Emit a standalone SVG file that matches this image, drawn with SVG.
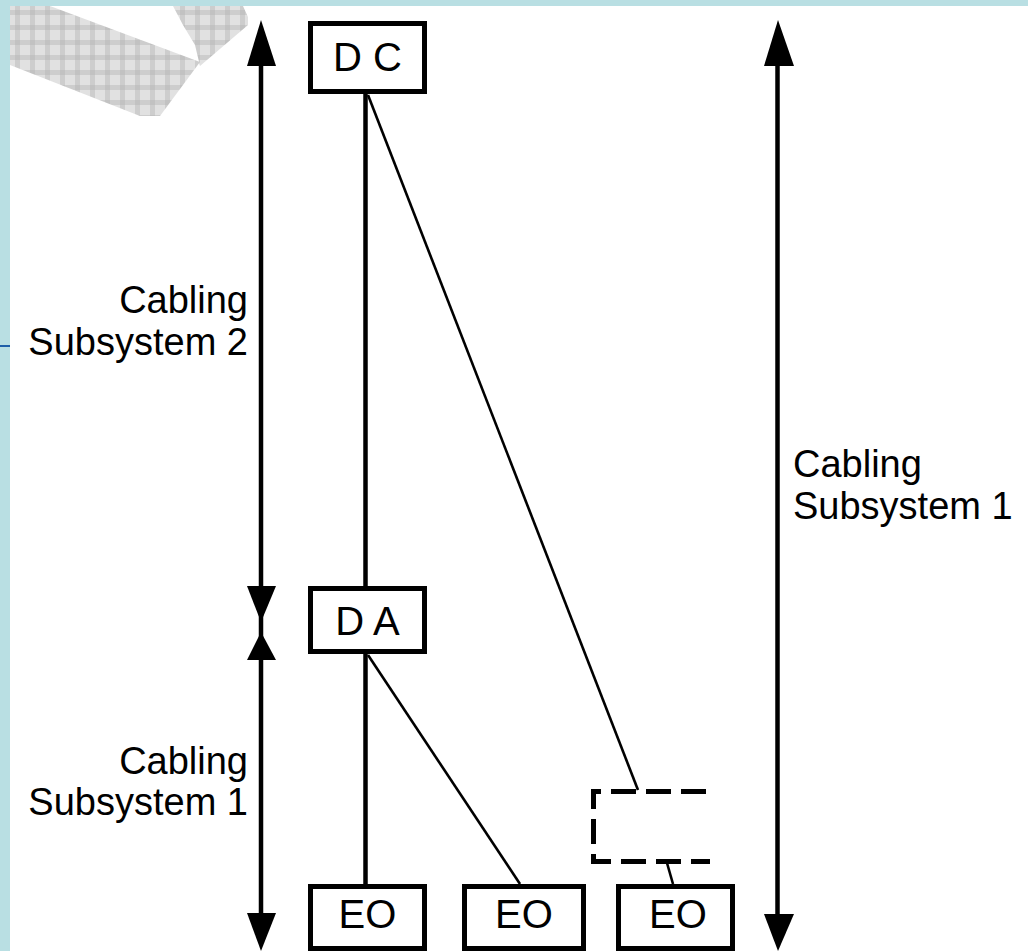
<svg xmlns="http://www.w3.org/2000/svg" width="1028" height="951" viewBox="0 0 1028 951">
  <defs>
    <pattern id="grid" patternUnits="userSpaceOnUse" x="0" y="0" width="15" height="15">
      <rect width="15" height="15" fill="#e1e1e1"/>
      <rect x="0" y="0" width="5" height="15" fill="#cdcdcd"/>
      <rect x="0" y="10" width="15" height="5" fill="#cdcdcd"/>
      <rect x="0" y="10" width="5" height="5" fill="#c2c2c2"/>
    </pattern>
    <style>
      .box { fill: #ffffff; stroke: #000000; stroke-width: 5; }
      .dash { fill: none; stroke: #000000; stroke-width: 5; stroke-dasharray: 25 10; }
      .thick { stroke: #000000; stroke-width: 4.5; fill: none; }
      .thin { stroke: #000000; stroke-width: 2.6; fill: none; }
      .head { fill: #000000; }
      .nt { font-family: "Liberation Sans", Arial, sans-serif; font-size: 40px; fill: #000000; text-anchor: middle; }
      .lbl { font-family: "Liberation Sans", Arial, sans-serif; font-size: 38px; fill: #000000; }
    </style>
  </defs>

  <rect width="1028" height="951" fill="#ffffff"/>
  <!-- frame -->
  <rect x="0" y="0" width="1028" height="6" fill="#b9dfe3"/>
  <rect x="0" y="0" width="10" height="951" fill="#b9dfe3"/>
  <rect x="0" y="345" width="10" height="2" fill="#1f5fa8"/>

  <!-- watermark -->
  <g id="watermark" fill="url(#grid)">
    <polygon points="10,6 50,6 200,62 160,116 140,116 10,65"/>
    <polygon points="173,6 243,6 248,17 248,25 200,66 195,45 183,25"/>
  </g>

  <!-- connectors -->
  <g id="connectors">
    <line class="thick" x1="365.5" y1="94" x2="365.5" y2="586"/>
    <line class="thick" x1="365.5" y1="654" x2="365.5" y2="884"/>
    <line class="thin" x1="368" y1="95" x2="638" y2="790"/>
    <line class="thin" x1="368" y1="655" x2="520" y2="884"/>
    <line class="thin" x1="667" y1="863" x2="673" y2="884"/>

    <!-- left dimension arrows -->
    <line class="thick" x1="261" y1="30" x2="261" y2="930"/>
    <polygon class="head" points="261,20 276,66 247,66"/>
    <polygon class="head" points="261,622 247,586 276,586"/>
    <polygon class="head" points="261,632 276,660 247,660"/>
    <polygon class="head" points="261,951 247,913 276,913"/>

    <!-- right dimension arrow -->
    <line class="thick" x1="777.5" y1="30" x2="777.5" y2="930"/>
    <polygon class="head" points="778,20 794,66 764,66"/>
    <polygon class="head" points="778,951 764,914 794,914"/>
  </g>

  <g id="DC">
    <rect class="box" x="310.5" y="23.5" width="114" height="68"/>
    <text class="nt" x="367.5" y="71">D C</text>
  </g>
  <g id="DA">
    <rect class="box" x="310.5" y="588.5" width="114" height="63"/>
    <text class="nt" x="367.5" y="635">D A</text>
  </g>
  <g id="dashed">
    <path class="dash" d="M706,791.5 H593.5 V861.5 H710"/>
  </g>
  <g id="EO1">
    <rect class="box" x="310.5" y="886.5" width="114" height="62"/>
    <text class="nt" x="367.5" y="928">EO</text>
  </g>
  <g id="EO2">
    <rect class="box" x="464.5" y="886.5" width="119" height="62"/>
    <text class="nt" x="524" y="928">EO</text>
  </g>
  <g id="EO3">
    <rect class="box" x="618.5" y="886.5" width="114" height="62"/>
    <text class="nt" x="678" y="928">EO</text>
  </g>

  <g id="labels">
    <text class="lbl" x="248" y="313" text-anchor="end">Cabling</text>
    <text class="lbl" x="248" y="355" text-anchor="end">Subsystem 2</text>
    <text class="lbl" x="248" y="774" text-anchor="end">Cabling</text>
    <text class="lbl" x="248" y="815" text-anchor="end">Subsystem 1</text>
    <text class="lbl" x="793" y="477">Cabling</text>
    <text class="lbl" x="793" y="519">Subsystem 1</text>
  </g>
</svg>
